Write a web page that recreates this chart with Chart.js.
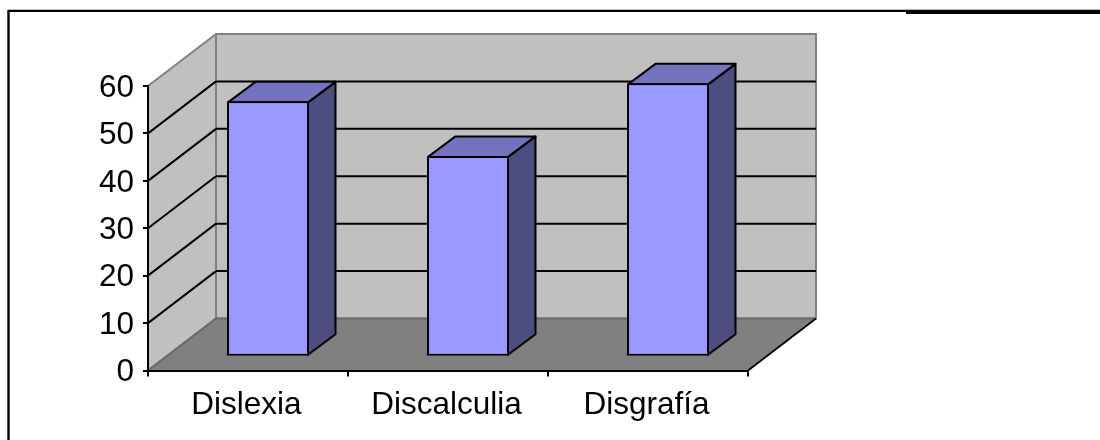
<!DOCTYPE html>
<html lang="es">
<head>
<meta charset="utf-8">
<title>Dislexia, Discalculia, Disgrafía</title>
<script src="https://cdn.jsdelivr.net/npm/chart.js@4"></script>
<style>
  html, body { margin: 0; padding: 0; background: #fff; }
  canvas { display: block; }
</style>
</head>
<body>
<canvas id="chart" width="1100" height="440"></canvas>
<script>
const categories = ['Dislexia', 'Discalculia', 'Disgrafía'];
const values = [53.85, 42.35, 57.65];
const yTicks = [0, 10, 20, 30, 40, 50, 60];

// Oblique projection of the box: full floor depth, bar start and bar depth.
const FLOOR = { dx: 68, dy: -52 };
const BAR_OFFSET = { dx: 20, dy: -13.8 };
const BAR_DEPTH = { dx: 27.5, dy: -20.5 };
const BAR_BORDER = 2;

const COLORS = {
  wall: '#c0c0c0', wallEdge: '#808080', floor: '#808080', floorBack: '#6a6a6a',
  barFront: '#9999ff', barTop: '#7373bf', barSide: '#4d4d80', line: '#000000'
};

function polygon(ctx, pts, fill, stroke, width) {
  ctx.beginPath();
  pts.forEach((p, i) => i ? ctx.lineTo(p[0], p[1]) : ctx.moveTo(p[0], p[1]));
  ctx.closePath();
  if (fill) { ctx.fillStyle = fill; ctx.fill(); }
  if (stroke) { ctx.strokeStyle = stroke; ctx.lineWidth = width; ctx.lineJoin = 'round'; ctx.stroke(); }
}

function segment(ctx, x1, y1, x2, y2, color, width) {
  ctx.beginPath();
  ctx.moveTo(x1, y1);
  ctx.lineTo(x2, y2);
  ctx.strokeStyle = color;
  ctx.lineWidth = width;
  ctx.stroke();
}

// Frame around the page and the walls and floor of the 3D box.
const boxPlugin = {
  id: 'box3d',
  beforeDraw(chart) {
    const { ctx, chartArea: a, scales } = chart;
    const { dx, dy } = FLOOR;
    ctx.save();

    segment(ctx, 8, 9.6, 1100, 9.6, '#b0b0b0', 1);
    segment(ctx, 8, 11, 1100, 11, COLORS.line, 2);
    segment(ctx, 8.5, 10, 8.5, 440, COLORS.line, 2.4);
    ctx.fillStyle = COLORS.line;
    ctx.fillRect(906, 10, 194, 4);

    polygon(ctx, [[a.left, a.bottom], [a.left + dx, a.bottom + dy], [a.left + dx, a.top + dy], [a.left, a.top]],
      COLORS.wall, COLORS.wallEdge, 2);
    polygon(ctx, [[a.left + dx, a.top + dy], [a.right + dx, a.top + dy], [a.right + dx, a.bottom + dy], [a.left + dx, a.bottom + dy]],
      COLORS.wall, COLORS.wallEdge, 2);
    polygon(ctx, [[a.left, a.bottom], [a.right, a.bottom], [a.right + dx, a.bottom + dy], [a.left + dx, a.bottom + dy]],
      COLORS.floor);
    segment(ctx, a.left + dx, a.bottom + dy, a.right + dx, a.bottom + dy, COLORS.floorBack, 2);
    segment(ctx, a.left, a.bottom, a.left + dx, a.bottom + dy, '#6a6a6a', 2);
    segment(ctx, a.right, a.bottom, a.right + dx, a.bottom + dy, COLORS.line, 1.8);

    // Horizontal rules run along both walls; 0 and the top are box edges.
    yTicks.slice(1, -1).forEach(v => {
      const y = scales.y.getPixelForValue(v);
      segment(ctx, a.left, y, a.left + dx, y + dy, COLORS.line, 2);
      segment(ctx, a.left + dx, y + dy, a.right + dx, y + dy, COLORS.line, 2);
    });
    ctx.restore();
  },
  // Side and top faces go first, then the library's bar is drawn shifted as the front face.
  beforeDatasetDraw(chart, args) {
    const { ctx } = chart;
    const o = BAR_OFFSET, d = BAR_DEPTH, inset = BAR_BORDER / 2;
    ctx.save();
    chart.getDatasetMeta(args.index).data.forEach(bar => {
      const l = bar.x - bar.width / 2 + o.dx + inset, r = bar.x + bar.width / 2 + o.dx - inset;
      const t = bar.y + o.dy + inset, b = bar.base + o.dy - inset;
      polygon(ctx, [[r, t], [r + d.dx, t + d.dy], [r + d.dx, b + d.dy], [r, b]], COLORS.barSide, COLORS.line, BAR_BORDER);
      polygon(ctx, [[l, t], [l + d.dx, t + d.dy], [r + d.dx, t + d.dy], [r, t]], COLORS.barTop, COLORS.line, BAR_BORDER);
    });
    ctx.restore();
    ctx.save();
    ctx.translate(o.dx, o.dy);
  },
  afterDatasetDraw(chart) {
    chart.ctx.restore();
  }
};

const tickFont = { family: '"Liberation Sans", Arial, sans-serif', size: 31.5 };

new Chart(document.getElementById('chart'), {
  type: 'bar',
  data: {
    labels: categories,
    datasets: [{
      data: values,
      backgroundColor: COLORS.barFront,
      borderColor: COLORS.line,
      borderWidth: BAR_BORDER,
      borderSkipped: false,
      barPercentage: 0.41,
      categoryPercentage: 1
    }]
  },
  plugins: [boxPlugin],
  options: {
    responsive: false,
    animation: false,
    layout: { padding: { left: 0, right: 352, top: 86, bottom: 0 } },
    plugins: { legend: { display: false }, tooltip: { enabled: false } },
    scales: {
      x: {
        grid: { drawOnChartArea: false, color: COLORS.line, tickColor: COLORS.line, tickLength: 6, lineWidth: 2 },
        border: { color: COLORS.line, width: 2 },
        ticks: { color: '#000', font: tickFont, maxRotation: 0, padding: 9.5, labelOffset: -1.5 },
        afterFit(scale) { scale.height = 69.5; }
      },
      y: {
        min: 0,
        max: 60,
        afterBuildTicks(scale) { scale.ticks = yTicks.map(value => ({ value })); },
        grid: { drawOnChartArea: false, color: COLORS.line, tickColor: COLORS.line, tickLength: 5, lineWidth: 2 },
        border: { color: COLORS.line, width: 2 },
        ticks: { color: '#000', font: tickFont, padding: 9, labelOffset: 2 },
        afterFit(scale) { scale.width = 148; }
      }
    }
  }
});
</script>
</body>
</html>
